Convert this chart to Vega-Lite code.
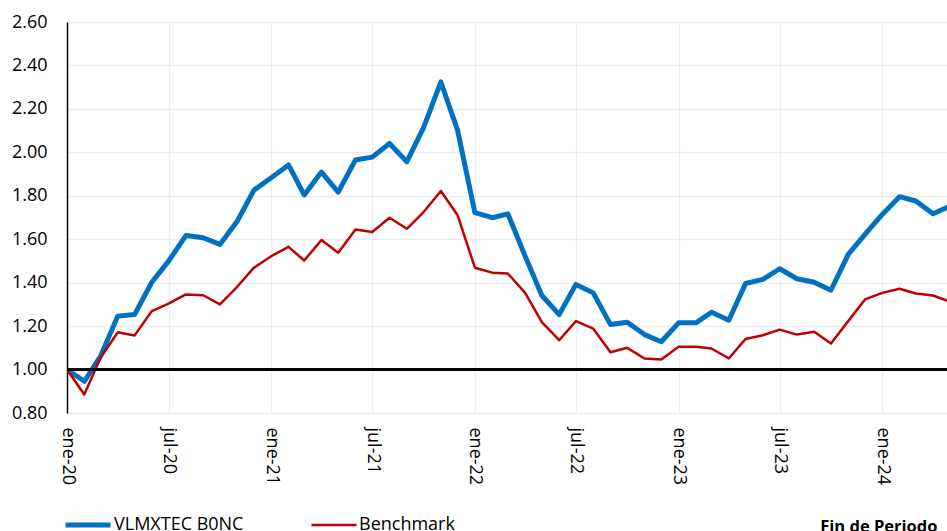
{
  "$schema": "https://vega.github.io/schema/vega-lite/v6.json",
  "width": 880,
  "height": 391,
  "autosize": {"type": "none"},
  "padding": {"left": 67, "top": 22, "right": 0, "bottom": 118},
  "background": "white",
  "config": {
    "view": {"stroke": null},
    "font": "Open Sans",
    "axis": {"labelFont": "Open Sans", "labelColor": "#000000", "titleFont": "Open Sans"},
    "legend": {"labelFont": "Open Sans", "padding": 0}
  },
  "data": {
    "values": [
      {"date": "2020-01-01", "VLMXTEC B0NC": 1.000, "Benchmark": 1.000},
      {"date": "2020-02-01", "VLMXTEC B0NC": 0.946, "Benchmark": 0.885},
      {"date": "2020-03-01", "VLMXTEC B0NC": 1.061, "Benchmark": 1.054},
      {"date": "2020-04-01", "VLMXTEC B0NC": 1.246, "Benchmark": 1.172},
      {"date": "2020-05-01", "VLMXTEC B0NC": 1.253, "Benchmark": 1.157},
      {"date": "2020-06-01", "VLMXTEC B0NC": 1.402, "Benchmark": 1.269},
      {"date": "2020-07-01", "VLMXTEC B0NC": 1.499, "Benchmark": 1.304},
      {"date": "2020-08-01", "VLMXTEC B0NC": 1.617, "Benchmark": 1.346},
      {"date": "2020-09-01", "VLMXTEC B0NC": 1.607, "Benchmark": 1.342},
      {"date": "2020-10-01", "VLMXTEC B0NC": 1.576, "Benchmark": 1.300},
      {"date": "2020-11-01", "VLMXTEC B0NC": 1.683, "Benchmark": 1.381},
      {"date": "2020-12-01", "VLMXTEC B0NC": 1.826, "Benchmark": 1.469},
      {"date": "2021-01-01", "VLMXTEC B0NC": 1.883, "Benchmark": 1.522},
      {"date": "2021-02-01", "VLMXTEC B0NC": 1.942, "Benchmark": 1.565},
      {"date": "2021-03-01", "VLMXTEC B0NC": 1.804, "Benchmark": 1.502},
      {"date": "2021-04-01", "VLMXTEC B0NC": 1.909, "Benchmark": 1.596},
      {"date": "2021-05-01", "VLMXTEC B0NC": 1.817, "Benchmark": 1.538},
      {"date": "2021-06-01", "VLMXTEC B0NC": 1.965, "Benchmark": 1.645},
      {"date": "2021-07-01", "VLMXTEC B0NC": 1.978, "Benchmark": 1.633},
      {"date": "2021-08-01", "VLMXTEC B0NC": 2.041, "Benchmark": 1.699},
      {"date": "2021-09-01", "VLMXTEC B0NC": 1.957, "Benchmark": 1.648},
      {"date": "2021-10-01", "VLMXTEC B0NC": 2.114, "Benchmark": 1.725},
      {"date": "2021-11-01", "VLMXTEC B0NC": 2.324, "Benchmark": 1.822},
      {"date": "2021-12-01", "VLMXTEC B0NC": 2.101, "Benchmark": 1.710},
      {"date": "2022-01-01", "VLMXTEC B0NC": 1.722, "Benchmark": 1.469},
      {"date": "2022-02-01", "VLMXTEC B0NC": 1.699, "Benchmark": 1.446},
      {"date": "2022-03-01", "VLMXTEC B0NC": 1.717, "Benchmark": 1.442},
      {"date": "2022-04-01", "VLMXTEC B0NC": 1.522, "Benchmark": 1.353},
      {"date": "2022-05-01", "VLMXTEC B0NC": 1.341, "Benchmark": 1.218},
      {"date": "2022-06-01", "VLMXTEC B0NC": 1.253, "Benchmark": 1.135},
      {"date": "2022-07-01", "VLMXTEC B0NC": 1.392, "Benchmark": 1.223},
      {"date": "2022-08-01", "VLMXTEC B0NC": 1.353, "Benchmark": 1.188},
      {"date": "2022-09-01", "VLMXTEC B0NC": 1.207, "Benchmark": 1.080},
      {"date": "2022-10-01", "VLMXTEC B0NC": 1.218, "Benchmark": 1.100},
      {"date": "2022-11-01", "VLMXTEC B0NC": 1.161, "Benchmark": 1.051},
      {"date": "2022-12-01", "VLMXTEC B0NC": 1.128, "Benchmark": 1.046},
      {"date": "2023-01-01", "VLMXTEC B0NC": 1.215, "Benchmark": 1.105},
      {"date": "2023-02-01", "VLMXTEC B0NC": 1.215, "Benchmark": 1.105},
      {"date": "2023-03-01", "VLMXTEC B0NC": 1.264, "Benchmark": 1.097},
      {"date": "2023-04-01", "VLMXTEC B0NC": 1.227, "Benchmark": 1.051},
      {"date": "2023-05-01", "VLMXTEC B0NC": 1.396, "Benchmark": 1.141},
      {"date": "2023-06-01", "VLMXTEC B0NC": 1.415, "Benchmark": 1.158},
      {"date": "2023-07-01", "VLMXTEC B0NC": 1.464, "Benchmark": 1.184},
      {"date": "2023-08-01", "VLMXTEC B0NC": 1.418, "Benchmark": 1.161},
      {"date": "2023-09-01", "VLMXTEC B0NC": 1.402, "Benchmark": 1.174},
      {"date": "2023-10-01", "VLMXTEC B0NC": 1.365, "Benchmark": 1.120},
      {"date": "2023-11-01", "VLMXTEC B0NC": 1.530, "Benchmark": 1.223},
      {"date": "2023-12-01", "VLMXTEC B0NC": 1.622, "Benchmark": 1.323},
      {"date": "2024-01-01", "VLMXTEC B0NC": 1.714, "Benchmark": 1.353},
      {"date": "2024-02-01", "VLMXTEC B0NC": 1.796, "Benchmark": 1.372},
      {"date": "2024-03-01", "VLMXTEC B0NC": 1.776, "Benchmark": 1.350},
      {"date": "2024-04-01", "VLMXTEC B0NC": 1.717, "Benchmark": 1.341},
      {"date": "2024-05-01", "VLMXTEC B0NC": 1.752, "Benchmark": 1.313}
    ]
  },
  "transform": [
    {"fold": ["VLMXTEC B0NC", "Benchmark"], "as": ["series", "value"]}
  ],
  "layer": [
    {
      "mark": {"type": "line", "clip": true, "strokeJoin": "round", "strokeCap": "butt"},
      "encoding": {
        "x": {
          "field": "date",
          "type": "temporal",
          "scale": {
            "type": "utc",
            "domain": [
              {"year": 2020, "month": 1, "date": 1, "utc": true},
              {"year": 2024, "month": 4, "date": 26, "utc": true}
            ]
          },
          "axis": {
            "tickCount": {"interval": "month", "step": 6},
            "labelExpr": "['ene','feb','mar','abr','may','jun','jul','ago','sep','oct','nov','dic'][utcmonth(datum.value)] + '-' + utcFormat(datum.value, '%y')",
            "labelAngle": 90,
            "labelFontSize": 18,
            "labelPadding": 14,
            "ticks": false,
            "tickSize": 0,
            "domain": false,
            "grid": true,
            "gridColor": "#EDEDED",
            "gridWidth": 1.3,
            "title": "Fin de Periodo",
            "titleFontSize": 16.5,
            "titleFontWeight": "bold",
            "titleColor": "#000000",
            "titleAlign": "right",
            "titleAnchor": "end",
            "titleBaseline": "alphabetic",
            "titleX": 870,
            "titleY": 118
          }
        },
        "y": {
          "field": "value",
          "type": "quantitative",
          "scale": {"domain": [0.8, 2.6], "nice": false, "zero": false},
          "axis": {
            "values": [0.8, 1.0, 1.2, 1.4, 1.6, 1.8, 2.0, 2.2, 2.4, 2.6],
            "format": ".2f",
            "labelFontSize": 18,
            "labelPadding": 20,
            "ticks": false,
            "tickSize": 0,
            "domain": true,
            "domainColor": "#000000",
            "domainWidth": 1.5,
            "grid": true,
            "gridColor": "#EDEDED",
            "gridWidth": 1.3,
            "title": null
          }
        },
        "color": {
          "field": "series",
          "type": "nominal",
          "scale": {"domain": ["VLMXTEC B0NC", "Benchmark"], "range": ["#0070C0", "#C00000"]},
          "legend": {
            "orient": "none",
            "direction": "horizontal",
            "legendX": -4,
            "legendY": 478,
            "title": null,
            "symbolType": "stroke",
            "symbolSize": 2025,
            "labelFontSize": 18,
            "labelColor": "#000000",
            "labelOffset": 1,
            "columnPadding": 62
          }
        },
        "strokeWidth": {
          "field": "series",
          "type": "nominal",
          "scale": {"domain": ["VLMXTEC B0NC", "Benchmark"], "range": [5, 2.5]},
          "legend": {
            "orient": "none",
            "direction": "horizontal",
            "legendX": -4,
            "legendY": 478,
            "title": null,
            "symbolType": "stroke",
            "symbolSize": 2025,
            "labelFontSize": 18,
            "labelColor": "#000000",
            "labelOffset": 1,
            "columnPadding": 62
          }
        }
      }
    },
    {
      "mark": {"type": "rule", "color": "#000000", "strokeWidth": 1.5},
      "encoding": {"y": {"datum": 1}}
    }
  ]
}
